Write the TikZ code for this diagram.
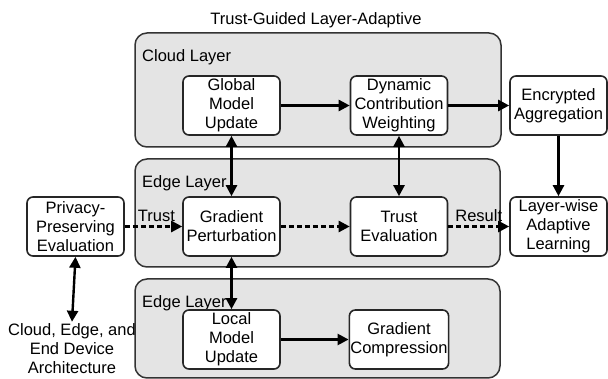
\documentclass[tikz,border=0pt]{standalone}
\usepackage{fontspec}
\setmainfont{Liberation Sans}
\usetikzlibrary{arrows.meta}

\definecolor{panelgray}{RGB}{228,228,228}

\tikzset{
  panel/.style={draw=black!80, line width=1.5pt, fill=panelgray, rounded corners=12pt},
  block/.style={draw=black!85, line width=1.6pt, fill=white, rounded corners=6pt,
    minimum width=97pt, minimum height=59pt, align=center, inner sep=1pt},
  flow/.style={line width=2.4pt, -{Triangle[length=11pt,width=11pt]}},
  both/.style={line width=2.4pt, {Triangle[length=11pt,width=11pt]}-{Triangle[length=11pt,width=11pt]}},
  trustflow/.style={flow, dash pattern=on 5pt off 3pt},
}

\begin{document}
\begin{tikzpicture}[x=1pt, y=-1pt, font=\fontsize{16.5}{19}\selectfont]
\useasboundingbox (0,0) rectangle (608,379);

% layers
\draw[panel] (135,33) rectangle (501,147);
\draw[panel] (135,159) rectangle (500,267);
\draw[panel] (135,279) rectangle (500,378);
\node[anchor=west, inner sep=2pt] (cloudlbl) at (140,57) {Cloud Layer};
\node[anchor=west, inner sep=2pt] (edgelbl) at (140,183) {Edge Layer};
\node[anchor=west, inner sep=2pt] (devlbl) at (140,303) {Edge Layer};

\node (title) at (316,20) {Trust-Guided Layer-Adaptive};

% blocks
\node[block] (glob) at (231.5,105.5) {Global\\Model\\Update};
\node[block] (dyn) at (399,105.5) {Dynamic\\Contribution\\Weighting};
\node[block] (enc) at (558.5,105.5) {Encrypted\\Aggregation};
\node[block] (priv) at (75.5,226.5) {Privacy-\\Preserving\\Evaluation};
\node[block] (gp) at (231.5,226.5) {Gradient\\Perturbation};
\node[block] (te) at (399,226.5) {Trust\\Evaluation};
\node[block] (lw) at (558.5,226.5) {Layer-wise\\Adaptive\\Learning};
\node[block] (lmu) at (231.5,339.5) {Local\\Model\\Update};
\node[block] (gc) at (399,339.5) {Gradient\\Compression};
\node[align=center, inner sep=2pt] (arch) at (72,349) {Cloud, Edge, and\\End Device\\Architecture};

% connectors
\draw[flow] (glob) -- (dyn);
\draw[flow] (dyn) -- (enc);
\draw[flow] (enc) -- (lw);
\draw[flow] (lmu) -- (gc);
\draw[both] (glob) -- (gp);
\draw[both] (dyn) -- (te);
\draw[both] (gp) -- (lmu);
\draw[both] (priv.south) -- (arch.north);
\draw[trustflow] (priv) -- node[above, pos=0.55] {Trust} (gp);
\draw[trustflow] (gp) -- (te);
\draw[trustflow] (te) -- node[above] {Result} (lw);
\end{tikzpicture}
\end{document}
